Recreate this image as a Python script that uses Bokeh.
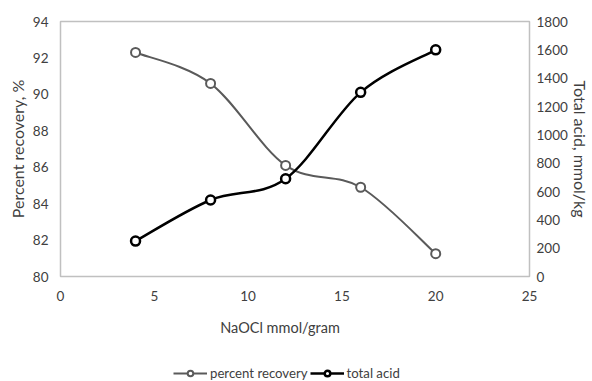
from bokeh.plotting import figure
from bokeh.layouts import column
from bokeh.models import (Range1d, LinearAxis, Legend, LegendItem, FixedTicker,
                          ColumnDataSource, Label)
from bokeh.embed import file_html
from bokeh.resources import INLINE

# NaOCl dose vs. recovery and total acid content
naocl = [4, 8, 12, 16, 20]
percent_recovery = [92.3, 90.6, 86.1, 84.9, 81.25]
total_acid = [250, 540, 690, 1300, 1600]

x_ticks = [0, 5, 10, 15, 20, 25]
left_ticks = [80, 82, 84, 86, 88, 90, 92, 94]
right_ticks = [0, 200, 400, 600, 800, 1000, 1200, 1400, 1600, 1800]

FONT = "Lato"
TEXT = "#404040"
GREY_SERIES = "#5a5a5a"
BLACK_SERIES = "#000000"
W = 592
BORDER_L, BORDER_R = 60, 62
NAN = float("nan")


def smooth_segments(xs, ys, k=1.0 / 6.0):
    """Cubic Bezier control points (Catmull-Rom style) through the data points."""
    n = len(xs)
    px = [xs[0]] + list(xs) + [xs[-1]]
    py = [ys[0]] + list(ys) + [ys[-1]]
    d = dict(x0=[], y0=[], x1=[], y1=[], cx0=[], cy0=[], cx1=[], cy1=[])
    for i in range(1, n):
        d["x0"].append(px[i]); d["y0"].append(py[i])
        d["x1"].append(px[i + 1]); d["y1"].append(py[i + 1])
        d["cx0"].append(px[i] + (px[i + 1] - px[i - 1]) * k)
        d["cy0"].append(py[i] + (py[i + 1] - py[i - 1]) * k)
        d["cx1"].append(px[i + 1] - (px[i + 2] - px[i]) * k)
        d["cy1"].append(py[i + 1] - (py[i + 2] - py[i]) * k)
    return ColumnDataSource(d)


# ---- main chart -------------------------------------------------------------
p = figure(width=W, height=310, output_backend="svg", toolbar_location=None,
           x_range=Range1d(0, 25), y_range=Range1d(80, 94),
           min_border_left=BORDER_L, min_border_right=BORDER_R, min_border_top=21,
           min_border_bottom=34)
p.extra_y_ranges = {"acid": Range1d(0, 1800)}

p.grid.visible = False
p.outline_line_color = "#c0c0c0"
p.outline_line_width = 1.5
p.background_fill_color = "white"
p.border_fill_color = "white"


def style_axis(ax, ticks):
    ax.ticker = FixedTicker(ticks=ticks)
    ax.axis_line_color = None
    ax.major_tick_line_color = None
    ax.minor_tick_line_color = None
    ax.major_tick_out = 0
    ax.major_tick_in = 0
    ax.minor_tick_out = 0
    ax.major_label_text_font = FONT
    ax.major_label_text_font_size = "13.5px"
    ax.major_label_text_color = TEXT
    ax.axis_label_text_font = FONT
    ax.axis_label_text_font_size = "16px"
    ax.axis_label_text_font_style = "normal"
    ax.axis_label_text_color = TEXT


style_axis(p.xaxis[0], x_ticks)
p.xaxis[0].major_label_standoff = 14

style_axis(p.yaxis[0], left_ticks)
p.yaxis[0].axis_label = "Percent recovery, %"
p.yaxis[0].major_label_standoff = 12
p.yaxis[0].axis_label_standoff = 3

right_ax = LinearAxis(y_range_name="acid")
style_axis(right_ax, right_ticks)
right_ax.axis_label = "Total acid, mmol/kg"
right_ax.major_label_standoff = 7
right_ax.axis_label_standoff = 0
p.add_layout(right_ax, "right")

# percent recovery (left axis)
p.bezier(x0="x0", y0="y0", x1="x1", y1="y1", cx0="cx0", cy0="cy0",
         cx1="cx1", cy1="cy1", source=smooth_segments(naocl, percent_recovery),
         line_color=GREY_SERIES, line_width=2)
p.scatter(naocl, percent_recovery, marker="circle", size=9,
          line_color=GREY_SERIES, line_width=2, fill_color="white")

# total acid (right axis)
p.bezier(x0="x0", y0="y0", x1="x1", y1="y1", cx0="cx0", cy0="cy0",
         cx1="cx1", cy1="cy1", source=smooth_segments(naocl, total_acid),
         line_color=BLACK_SERIES, line_width=2.5, y_range_name="acid")
p.scatter(naocl, total_acid, marker="circle", size=9,
          line_color=BLACK_SERIES, line_width=2.5, fill_color="white",
          y_range_name="acid")

# ---- x-axis title and legend strip (pixel-based ranges) ----------------------
H2 = 71
foot = figure(width=W, height=H2, output_backend="svg", toolbar_location=None,
              x_range=Range1d(BORDER_L, W - BORDER_R), y_range=Range1d(0, H2),
              x_axis_location=None, y_axis_location=None,
              min_border_left=BORDER_L, min_border_right=BORDER_R,
              min_border_top=0, min_border_bottom=0)
foot.grid.visible = False
foot.outline_line_color = None
foot.background_fill_color = "white"
foot.border_fill_color = "white"

foot.add_layout(Label(x=280, y=H2 - 17, text="NaOCl mmol/gram", text_font=FONT,
                      text_font_size="14.5px", text_color=TEXT,
                      text_align="center", text_baseline="middle"))

# legend samples styled like the series above (no visible data of their own)
s_rec_l = foot.line([NAN], [NAN], line_color=GREY_SERIES, line_width=2)
s_rec_p = foot.scatter([NAN], [NAN], marker="circle", size=9, line_color=GREY_SERIES,
                       line_width=2, fill_color="white")
s_acid_l = foot.line([NAN], [NAN], line_color=BLACK_SERIES, line_width=2.5)
s_acid_p = foot.scatter([NAN], [NAN], marker="circle", size=9, line_color=BLACK_SERIES,
                        line_width=2.5, fill_color="white")

legend = Legend(items=[
    LegendItem(label="percent recovery", renderers=[s_rec_l, s_rec_p]),
    LegendItem(label="total acid", renderers=[s_acid_l, s_acid_p]),
], orientation="horizontal", location=(113, 0))
legend.margin = 0
legend.padding = 0
legend.spacing = 2
legend.label_standoff = 3
legend.glyph_width = 34
legend.glyph_height = 14
legend.label_height = 14
legend.label_text_font = FONT
legend.label_text_font_size = "13.2px"
legend.label_text_color = TEXT
legend.border_line_color = None
legend.background_fill_alpha = 0
foot.add_layout(legend, "center")

open("out.html", "w").write(file_html(column(p, foot, spacing=0), INLINE))
